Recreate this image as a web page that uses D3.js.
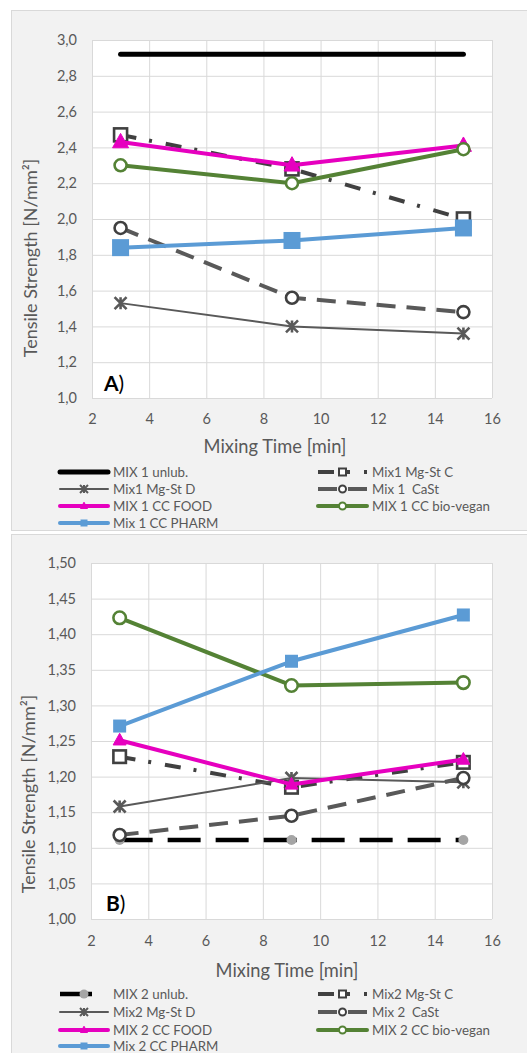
<!DOCTYPE html>
<html>
<head>
<meta charset="utf-8">
<script src="https://cdn.jsdelivr.net/npm/d3@7"></script>
<style>
  html, body { margin: 0; padding: 0; background: #ffffff; }
  svg { display: block; }
  text { font-family: Lato, "Open Sans", "Liberation Sans", sans-serif; }
</style>
</head>
<body>
<svg id="chart" width="527" height="1053"></svg>
<script>
// ---------- DATA ----------
const mixingTimes = [3, 9, 15];
const xTickValues = [2, 4, 6, 8, 10, 12, 14, 16];
const yTicksA = [1.0, 1.2, 1.4, 1.6, 1.8, 2.0, 2.2, 2.4, 2.6, 2.8, 3.0];
const yTicksB = [1.00, 1.05, 1.10, 1.15, 1.20, 1.25, 1.30, 1.35, 1.40, 1.45, 1.50];

const seriesNamesA = ["MIX 1 unlub.", "Mix1 Mg-St C", "Mix1 Mg-St D", "Mix 1  CaSt",
                      "MIX 1 CC FOOD", "MIX 1 CC bio-vegan", "Mix 1 CC PHARM"];
const seriesNamesB = ["MIX 2 unlub.", "Mix2 Mg-St C", "Mix2 Mg-St D", "Mix 2  CaSt",
                      "MIX 2 CC FOOD", "MIX 2 CC bio-vegan", "Mix 2 CC PHARM"];

// Panel A (Mix 1) values, N/mm²
const mix1Unlub     = [2.92, 2.92, 2.92];
const mix1MgStC     = [2.47, 2.28, 2.00];
const mix1MgStD     = [1.53, 1.40, 1.36];
const mix1CaSt      = [1.95, 1.56, 1.48];
const mix1CCFood    = [2.43, 2.30, 2.41];
const mix1CCBioVegan= [2.30, 2.20, 2.39];
const mix1CCPharm   = [1.84, 1.88, 1.95];

// Panel B (Mix 2) values, N/mm²
const mix2Unlub     = [1.111, 1.111, 1.111];
const mix2MgStC     = [1.228, 1.185, 1.220];
const mix2MgStD     = [1.158, 1.198, 1.192];
const mix2CaSt      = [1.118, 1.145, 1.198];
const mix2CCFood    = [1.251, 1.189, 1.224];
const mix2CCBioVegan= [1.423, 1.328, 1.332];
const mix2CCPharm   = [1.271, 1.362, 1.427];

const panelLabels = ["A)", "B)"];
const xTitle = "Mixing Time [min]";
const yTitle = "Tensile Strength [N/mm²]";

// ---------- STYLES ----------
const GRAY_D = "#404040", GRAY = "#595959", PINK = "#e600bf", GREEN = "#548235", BLUE = "#5b9bd5";
function stylesFor(panel) {
  const big = panel === "A";
  return [
    big ? { color: "#000", width: 5, dash: null, cap: "round", marker: null }
        : { color: "#000", width: 4.5, dash: "33,15", cap: "butt", marker: "dot", msize: 10, mfill: "#a5a5a5", mstroke: "none" },
    { color: GRAY_D, width: 4, dash: "16,13,3,14", cap: "butt", marker: "square", msize: big ? 13 : 12.5, mfill: "#fff", mstroke: GRAY_D, mwidth: 2.6 },
    { color: GRAY, width: 2, dash: null, cap: "round", marker: "star", msize: 12, mfill: "none", mstroke: GRAY, mwidth: 2.6 },
    { color: GRAY, width: 4, dash: "19,11", cap: "butt", marker: "circle", msize: 12, mfill: "#fff", mstroke: GRAY_D, mwidth: 2.6 },
    { color: PINK, width: 4, dash: null, cap: "round", marker: "triangle", msize: big ? 16 : 13, mfill: PINK, mstroke: PINK, mwidth: 1 },
    { color: GREEN, width: 4, dash: null, cap: "round", marker: "circle", msize: big ? 12 : 12.5, mfill: "#fff", mstroke: GREEN, mwidth: 2.6 },
    { color: BLUE, width: 4, dash: null, cap: "round", marker: "fsquare", msize: big ? 17 : 13, mfill: BLUE, mstroke: "none" }
  ];
}

const svg = d3.select("#chart");

function drawMarker(g, type, x, y, s, st) {
  if (!type) return;
  if (type === "square" || type === "fsquare") {
    g.append("rect").attr("x", x - s / 2).attr("y", y - s / 2).attr("width", s).attr("height", s)
      .attr("fill", st.mfill).attr("stroke", st.mstroke).attr("stroke-width", st.mwidth || 0);
  } else if (type === "circle" || type === "dot") {
    g.append("circle").attr("cx", x).attr("cy", y).attr("r", s / 2)
      .attr("fill", st.mfill).attr("stroke", st.mstroke).attr("stroke-width", st.mwidth || 0);
  } else if (type === "triangle") {
    const h = s * 0.9;
    g.append("path").attr("d", `M${x},${y - h * 0.6}L${x + s / 2},${y + h * 0.4}L${x - s / 2},${y + h * 0.4}Z`)
      .attr("fill", st.mfill).attr("stroke", st.mstroke).attr("stroke-width", st.mwidth);
  } else if (type === "star") {
    const r = s / 2;
    g.append("path")
      .attr("d", `M${x - r},${y - r}L${x + r},${y + r}M${x + r},${y - r}L${x - r},${y + r}M${x},${y - r}L${x},${y + r}`)
      .attr("stroke", st.mstroke).attr("stroke-width", st.mwidth).attr("fill", "none");
  }
}

function drawPanel(cfg) {
  const { series, names, styles, yTicks, yDomain, fmt } = cfg;
  svg.append("rect").attr("x", 11.5).attr("y", cfg.panelTop + 0.5).attr("width", 560).attr("height", cfg.panelH)
    .attr("fill", "#f2f2f2").attr("stroke", "#d9d9d9").attr("stroke-width", 1);

  const x = d3.scaleLinear().domain([2, 16]).range([cfg.px0, 492]);
  const y = d3.scaleLinear().domain(yDomain).range([cfg.py1, cfg.py0]);
  const W = 492 - cfg.px0, H = cfg.py1 - cfg.py0;

  svg.append("rect").attr("x", cfg.px0).attr("y", cfg.py0).attr("width", W).attr("height", H).attr("fill", "#fff");

  const gx = svg.append("g").attr("transform", `translate(0,${cfg.py1})`)
    .call(d3.axisBottom(x).tickValues(xTickValues).tickSize(-H).tickFormat(""));
  gx.select(".domain").remove();
  gx.selectAll("line").attr("stroke", "#d9d9d9").attr("stroke-width", 1);
  const gy = svg.append("g").attr("transform", `translate(${cfg.px0},0)`)
    .call(d3.axisLeft(y).tickValues(yTicks).tickSize(-W).tickFormat(""));
  gy.select(".domain").remove();
  gy.selectAll("line").attr("stroke", "#d9d9d9").attr("stroke-width", 1);

  const ax = svg.append("g").attr("transform", `translate(0,${cfg.py1})`)
    .call(d3.axisBottom(x).tickValues(xTickValues).tickSize(0).tickPadding(cfg.xPad).tickFormat(d3.format("d")));
  ax.select(".domain").remove();
  ax.selectAll("text").attr("fill", GRAY).style("font-size", "14.5px").style("font-family", "Lato, 'Open Sans', sans-serif");
  const ay = svg.append("g").attr("transform", `translate(${cfg.px0},0)`)
    .call(d3.axisLeft(y).tickValues(yTicks).tickSize(0).tickPadding(cfg.yPad).tickFormat(d => fmt(d).replace(".", ",")));
  ay.select(".domain").remove();
  ay.selectAll("text").attr("fill", GRAY).style("font-size", "14.5px").style("font-family", "Lato, 'Open Sans', sans-serif");

  const line = d3.line().x((d, i) => x(mixingTimes[i])).y(d => y(d));
  series.forEach((vals, k) => {
    const st = styles[k];
    const g = svg.append("g");
    g.append("path").attr("d", line(vals)).attr("fill", "none").attr("stroke", st.color)
      .attr("stroke-width", st.width).attr("stroke-dasharray", st.dash).attr("stroke-linecap", st.cap)
      .attr("stroke-linejoin", "round");
    vals.forEach((v, i) => drawMarker(g, st.marker, x(mixingTimes[i]), y(v), st.msize, st));
  });

  const lbl = svg.append("text").attr("x", cfg.labelX).attr("y", cfg.labelY).attr("fill", "#000").style("font-size", "21px");
  lbl.append("tspan").style("font-weight", "bold").text(cfg.label[0]);
  lbl.append("tspan").text(cfg.label.slice(1));

  svg.append("text").attr("x", cfg.xTitleX).attr("y", cfg.xTitleY).attr("text-anchor", "middle")
    .attr("fill", GRAY).style("font-size", "18.3px").text(xTitle);
  svg.append("text").attr("transform", `translate(${cfg.yTitleX},${cfg.yTitleY}) rotate(-90)`)
    .attr("text-anchor", "middle").attr("fill", GRAY).style("font-size", "18px").text(yTitle);

  const cols = [{ a: 60, b: 108, t: 113 }, { a: 318, b: 367, t: 372 }];
  names.forEach((name, k) => {
    const st = styles[k];
    const c = cols[k % 2];
    const ry = cfg.legendY[Math.floor(k / 2)];
    const g = svg.append("g");
    const lb = (k === 0 && st.marker === "dot") ? 92 : c.b;
    g.append("line").attr("x1", c.a).attr("x2", lb).attr("y1", ry).attr("y2", ry)
      .attr("stroke", st.color).attr("stroke-width", st.width).attr("stroke-dasharray", st.dash)
      .attr("stroke-linecap", st.cap);
    const cx = (c.a + c.b) / 2;
    const small = { ...st, mwidth: st.mwidth ? Math.min(st.mwidth, 2) : 0 };
    let ms = st.marker === "dot" ? 9 : st.marker === "star" ? 8 : 7;
    drawMarker(g, st.marker, cx, ry, ms, small);
    g.append("text").attr("x", c.t).attr("y", ry).attr("dy", "0.36em").attr("fill", GRAY)
      .style("font-size", "13.3px").style("white-space", "pre").text(name);
  });
}

drawPanel({
  series: [mix1Unlub, mix1MgStC, mix1MgStD, mix1CaSt, mix1CCFood, mix1CCBioVegan, mix1CCPharm],
  names: seriesNamesA, styles: stylesFor("A"), yTicks: yTicksA, yDomain: [1, 3], fmt: d3.format(".1f"),
  panelTop: 10, panelH: 520, px0: 92, py0: 40, py1: 398, xPad: 16, yPad: 15,
  label: panelLabels[0], labelX: 104, labelY: 391,
  xTitleX: 275, xTitleY: 453, yTitleX: 37, yTitleY: 258,
  legendY: [472, 489, 506, 523]
});

drawPanel({
  series: [mix2Unlub, mix2MgStC, mix2MgStD, mix2CaSt, mix2CCFood, mix2CCBioVegan, mix2CCPharm],
  names: seriesNamesB, styles: stylesFor("B"), yTicks: yTicksB, yDomain: [1, 1.5], fmt: d3.format(".2f"),
  panelTop: 534, panelH: 540, px0: 91, py0: 563, py1: 919, xPad: 17, yPad: 15,
  label: panelLabels[1], labelX: 106, labelY: 911,
  xTitleX: 287, xTitleY: 977, yTitleX: 35, yTitleY: 794,
  legendY: [994, 1012, 1030, 1046]
});
</script>
</body>
</html>
